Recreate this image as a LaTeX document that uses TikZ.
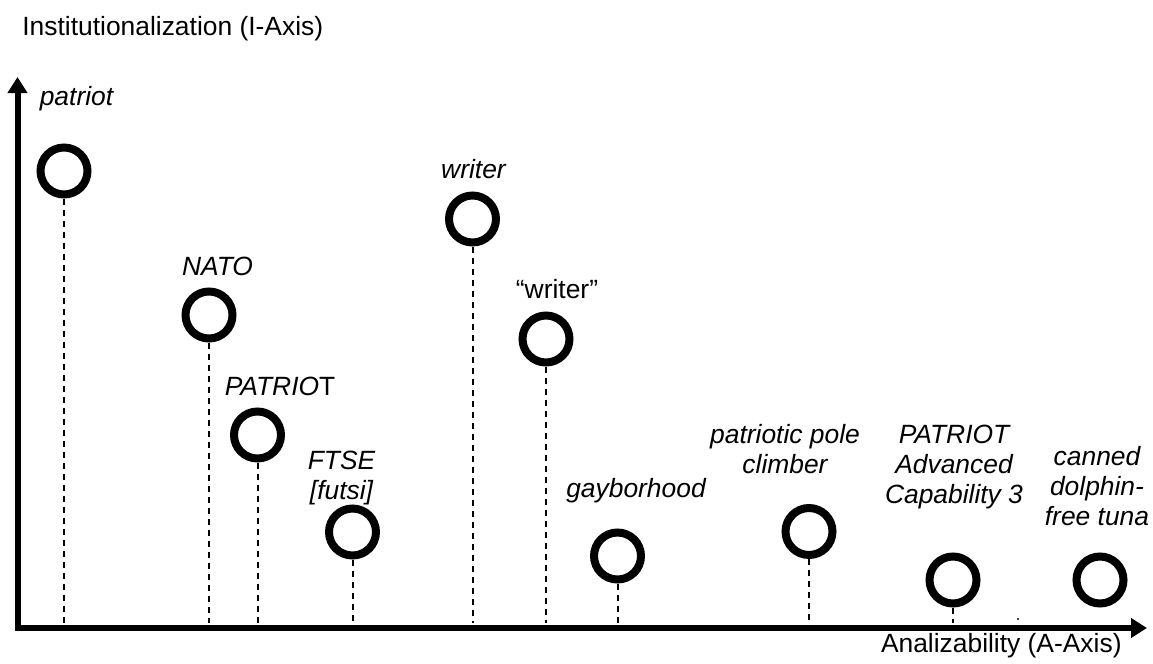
\documentclass[tikz,border=0pt]{standalone}
\usepackage{fontspec}
\setsansfont{Liberation Sans}
\usetikzlibrary{arrows.meta}

\begin{document}
\begin{tikzpicture}[x=0.5pt,y=-0.5pt,font=\sffamily\fontsize{13.2}{15}\selectfont,>={Triangle[length=8pt,width=9.5pt]},axis/.style={line width=3pt,line join=miter},term/.style={circle,draw,line width=4pt,minimum size=23.5pt,inner sep=0pt},stem/.style={line width=1pt,dash pattern=on 3pt off 2.5pt},word/.style={anchor=base,align=center,font=\sffamily\itshape\fontsize{13.2}{15}\selectfont}]
\useasboundingbox (0,0) rectangle (1153,664);
% axes
\coordinate (O) at (17.5,628);
\coordinate (Itip) at (17.5,77);
\coordinate (Atip) at (1147,628);
\coordinate (floor) at (0,623);
\draw[axis,<->] (Itip) -- (O) -- (Atip);
\node[anchor=base west,inner sep=0pt] (ilab) at (22,35){Institutionalization (I-Axis)};
\node[anchor=base east,inner sep=0pt] (alab) at (1122,652){Analizability (A-Axis)};
% terms with their stems
\foreach \n/\x/\y in {patriot/64/171,nato/209/315,patriotcaps/257.5/435,ftse/352.5/532,writer/472.5/219,quoted/546/339,gay/617.5/556,pole/809/531.5,pac/953/580}{
\node[term] (\n) at (\x,\y){};
\draw[stem] (\n.south) -- (\n.south |- floor);
}
\node[term] (tuna) at (1100,580){};
\fill (1018,619) circle (0.6pt);
% labels
\node[word] (patriotlab) at (76.5,105){patriot};
\node[word] (natolab) at (217.5,275){NATO};
\node[word] (patriotcapslab) at (280,395){PATRIO\upshape T};
\node[word] (ftselab) at (341.5,499){FTSE\\{[futsi]}};
\node[word] (writerlab) at (473.5,178){writer};
\node[word] (quotedlab) at (557,298){\upshape “writer”};
\node[word] (gaylab) at (636,497){gayborhood};
\node[word] (polelab) at (785,473){patriotic pole\\climber};
\node[word] (paclab) at (954,503){PATRIOT\\Advanced\\Capability 3};
\node[word] (tunalab) at (1097,525){canned\\dolphin-\\free tuna};
\end{tikzpicture}
\end{document}
